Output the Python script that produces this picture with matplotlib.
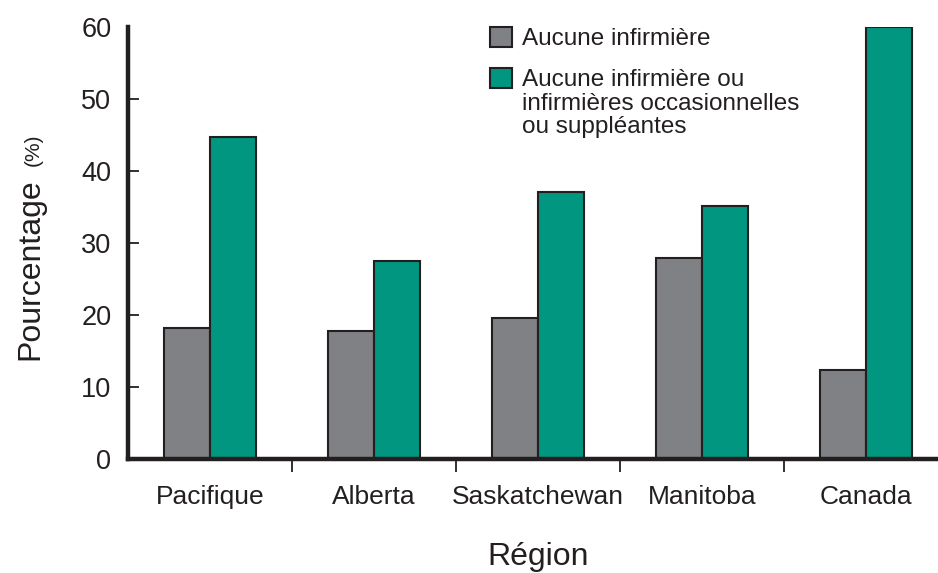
import matplotlib
matplotlib.use("Agg")
import matplotlib.pyplot as plt
from matplotlib.patches import Rectangle
import numpy as np

plt.rcParams['font.family'] = ['Liberation Sans', 'DejaVu Sans']

categories = ["Pacifique", "Alberta", "Saskatchewan", "Manitoba", "Canada"]
aucune = [18.2, 17.8, 19.6, 27.9, 12.4]
aucune_ou_occ = [44.7, 27.5, 37.1, 35.1, 60.0]
series_labels = ["Aucune infirmière",
                 "Aucune infirmière ou\ninfirmières occasionnelles\nou suppléantes"]
yticks = [0, 10, 20, 30, 40, 50, 60]

grey = "#808184"
green = "#00967F"
dark = "#231F20"

W, H = 938, 573
fig = plt.figure(figsize=(W / 100, H / 100), dpi=100)
ax = fig.add_axes([128 / W, (H - 459) / H, (W - 128) / W, (459 - 27) / H])

x = np.arange(len(categories))
bw = 0.28
ax.bar(x - bw / 2, aucune, bw, color=grey, edgecolor=dark, linewidth=1.5, zorder=2)
ax.bar(x + bw / 2, aucune_ou_occ, bw, color=green, edgecolor=dark, linewidth=1.5, zorder=2)

ax.set_xlim(-0.5, (W - 128) / 164 - 0.5)
ax.set_ylim(0, 60)

for s in ["top", "right"]:
    ax.spines[s].set_visible(False)
for s in ["left", "bottom"]:
    ax.spines[s].set_linewidth(3.2)
    ax.spines[s].set_color(dark)
    ax.spines[s].set_zorder(3)

ax.set_yticks(yticks)
ax.set_yticklabels([str(v) for v in yticks])
ax.tick_params(axis="y", direction="in", length=8, width=1.3, color=dark,
               labelsize=19.5, pad=12, labelcolor=dark)
yt = ax.yaxis.get_major_ticks()
yt[-1].tick1line.set_visible(False)
yt[0].tick1line.set_visible(False)

ax.set_xticks(x)
ax.set_xticklabels(categories)
ax.tick_params(axis="x", which="major", length=0, labelsize=19, pad=19, labelcolor=dark)
ax.set_xticks(np.arange(len(categories) - 1) + 0.5, minor=True)
ax.tick_params(axis="x", which="minor", direction="out", length=9, width=1.3, color=dark)

# y label
fig.text(30 / W, 1 - 269 / H, "Pourcentage", rotation=90, ha="center", va="center",
         fontsize=23, color=dark)
fig.text(33 / W, 1 - 150 / H, "(%)", rotation=90, ha="center", va="center",
         fontsize=15, color=dark)
# x label
fig.text(538 / W, 1 - 557 / H, "Région", ha="center", va="center", fontsize=23, color=dark)

# legend drawn manually
for (top, col, lab) in [(27, grey, series_labels[0]), (68, green, series_labels[1])]:
    r = Rectangle((490 / W, 1 - (top + 20) / H), 22 / W, 20 / H, transform=fig.transFigure,
                  facecolor=col, edgecolor=dark, linewidth=1.5)
    fig.patches.append(r)
    fig.text(522 / W, 1 - (top + 1) / H, lab, ha="left", va="top", fontsize=17.5,
             color=dark, linespacing=1.1)

fig.savefig("out.png", dpi=100)
